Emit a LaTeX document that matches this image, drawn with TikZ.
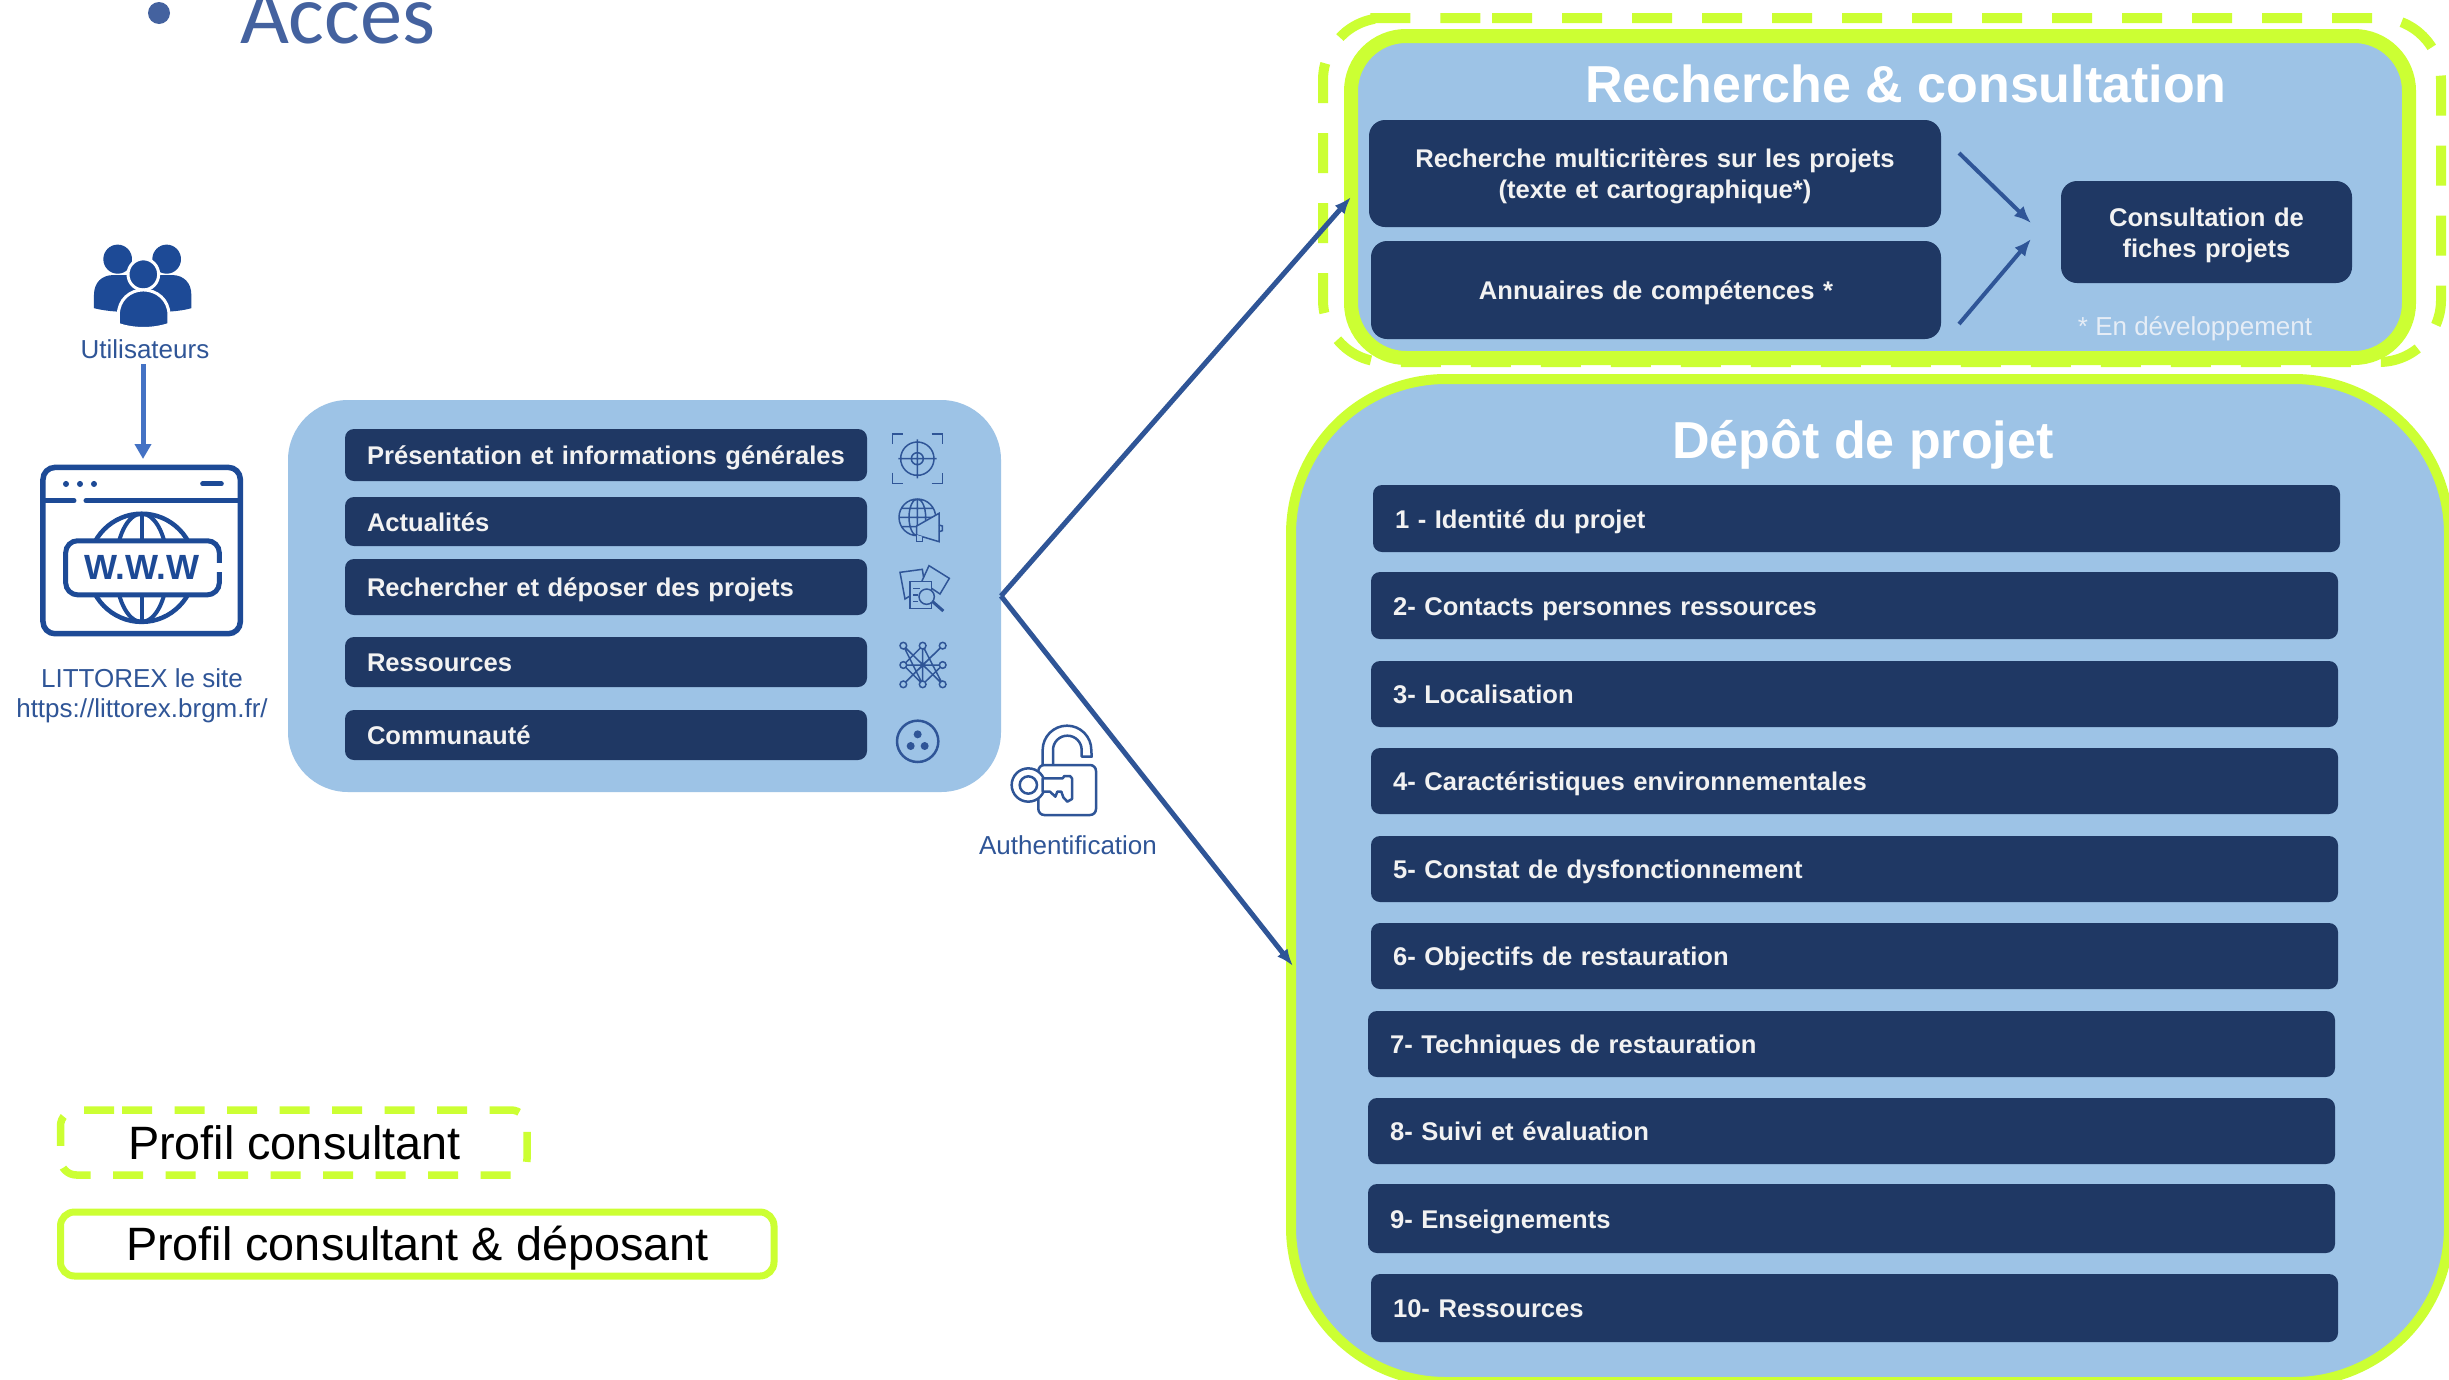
\documentclass[tikz,border=0pt]{standalone}
\usepackage{fontspec}
\setmainfont{Liberation Sans}
\newfontfamily\calib{Carlito}
\usetikzlibrary{arrows.meta}
\definecolor{dark}{HTML}{1F3864}
\definecolor{sky}{HTML}{9DC3E6}
\definecolor{lime}{HTML}{CCFF33}
\definecolor{line}{HTML}{2F5597}
\definecolor{icon}{HTML}{1D4A96}
\definecolor{arrowb}{HTML}{4472C4}
\definecolor{acc}{HTML}{44629F}
\definecolor{devtxt}{HTML}{E6EDF6}
\newcommand{\st}{\rule[-6pt]{0pt}{31pt}}
\tikzset{
  x=1pt,y=-1pt,
  every node/.style={outer sep=0pt},
  barbox/.style={rectangle,fill=dark,text=black!5,rounded corners=9pt,inner ysep=0pt,inner xsep=22pt,
    align=left,anchor=north west,font=\bfseries\fontsize{25.6}{31}\selectfont},
  cbox/.style={barbox,align=center,rounded corners=16pt},
  panelbox/.style={rectangle,fill=sky,anchor=north west,inner sep=0pt},
  bluetxt/.style={text=line,font=\fontsize{26}{31}\selectfont,align=center,inner sep=0pt},
  title/.style={text=white,font=\bfseries\fontsize{52}{60}\selectfont,inner sep=0pt,anchor=base},
  legend/.style={text=black,font=\fontsize{46.8}{52}\selectfont,inner sep=0pt,anchor=base west},
  link/.style={draw=line,line width=5pt,-{Latex[length=17pt,width=13pt]}},
  sublink/.style={draw=line,line width=4pt,-{Latex[length=17pt,width=14pt]}},
  ic/.style={draw=line,line width=1.5pt,fill=none},
}
\newcommand{\mybar}[6]{%
  \pgfmathsetmacro\bw{#4-#2-44}\pgfmathsetmacro\bh{#5-#3}%
  \node[barbox,text width=\bw pt,minimum height=\bh pt] (#1) at (#2,#3) {\st\mbox{#6}};}
\newcommand{\mycbox}[6]{%
  \pgfmathsetmacro\bw{#4-#2-44}\pgfmathsetmacro\bh{#5-#3}%
  \node[cbox,text width=\bw pt,minimum height=\bh pt] (#1) at (#2,#3) {\st #6};}
\newcommand{\mypanel}[6]{%
  \pgfmathsetmacro\bw{#4-#2}\pgfmathsetmacro\bh{#5-#3}%
  \node[panelbox,minimum width=\bw pt,minimum height=\bh pt,#6] (#1) at (#2,#3) {};}
\begin{document}
\begin{tikzpicture}
\useasboundingbox (0,0) rectangle (2449,1379);
\clip (0,0) rectangle (2449,1379);
\fill[white] (0,0) rectangle (2449,1379);

% heading
\fill[acc] (159,13) circle (11);
\node[text=acc,font=\calib\fontsize{84.5}{90}\selectfont,inner sep=0pt,anchor=base west] (acces) at (240,43) {Acces};

% users
\begin{scope}[shift={(0,200)},xscale=1/3,yscale=1/2.958]
  \fill[icon] (282,320) -- (282,280) .. controls (282,245) and (305,222) .. (340,222) -- (420,222) -- (420,332) .. controls (370,332) and (320,330) .. (282,320) -- cycle;
  \fill[icon] (574,320) -- (574,280) .. controls (574,245) and (551,222) .. (516,222) -- (440,222) -- (440,332) .. controls (490,332) and (540,330) .. (574,320) -- cycle;
  \fill[icon] (353,175) circle (43);
  \fill[icon] (500,175) circle (43);
  \filldraw[icon,draw=white,line width=3pt] (430,220) circle (46);
  \filldraw[icon,draw=white,line width=3pt] (355,368) -- (355,340) .. controls (355,295) and (390,266) .. (430,266) .. controls (470,266) and (507,295) .. (507,340) -- (507,368) .. controls (460,384) and (400,384) .. (355,368) -- cycle;
  % browser
  \draw[icon,line width=5.5pt,rounded corners=12pt] (129,791) rectangle (721,1283);
  \draw[icon,line width=5pt,line cap=round] (129,890) -- (222,890) (258,890) -- (721,890);
  \fill[icon] (198,840) circle (9) (240,840) circle (9) (282,840) circle (9);
  \draw[icon,line width=5pt,line cap=round] (608,840) -- (664,840);
  % globe
  \draw[icon,line width=4.5pt] (425,1088) circle (160);
  \begin{scope}
    \clip (425,1088) circle (160);
    \draw[icon,line width=4pt] (425,920) -- (425,1260);
    \draw[icon,line width=4pt] (425,1088) ellipse (78 and 160);
  \end{scope}
  \filldraw[fill=white,draw=icon,line width=5pt,rounded corners=12pt] (197,1008) rectangle (658,1168);
  \draw[white,line width=8pt] (658,1075) -- (658,1100);
\end{scope}
\node[bluetxt,anchor=base] (users) at (145,358) {Utilisateurs};
\node[text=icon,font=\bfseries\fontsize{35}{38}\selectfont,inner sep=0pt,anchor=base] (www) at (142,579) {W.W.W};
\node[bluetxt,anchor=base] (site1) at (142,687) {LITTOREX le site};
\node[bluetxt,anchor=base] (site2) at (142,717) {https://littorex.brgm.fr/};
\coordinate (usertail) at (143,364);
\coordinate (browsertop) at (143,459);
\draw[arrowb,line width=5pt,-{Triangle[length=15pt,width=16pt]}] (usertail) -- (browsertop);

% left panel
\mypanel{main}{288}{400}{1001}{792}{rounded corners=60pt}
\mybar{a1}{345}{429}{867}{481}{Présentation et informations générales}
\mybar{a2}{345}{497}{867}{546}{Actualités}
\mybar{a3}{345}{559}{867}{615}{Rechercher et déposer des projets}
\mybar{a4}{345}{637}{867}{687}{Ressources}
\mybar{a5}{345}{710}{867}{760}{Communauté}

% panel icons (zoom coordinates)
\begin{scope}[shift={(860,400)},xscale=1/3,yscale=1/3]
  % target
  \draw[ic] (97,132) -- (97,102) -- (130,102) (215,102) -- (248,102) -- (248,132) (97,218) -- (97,250) -- (130,250) (215,250) -- (248,250) -- (248,218);
  \draw[ic] (172,176) circle (50) (172,176) circle (18) (115,176) -- (230,176) (172,118) -- (172,235);
  % globe + megaphone
  \draw[ic] (172,352) circle (55) (172,352) ellipse (25 and 55) (117,352) -- (227,352) (125,325) -- (219,325) (125,380) -- (219,380) (172,297) -- (172,407);
  \filldraw[ic,fill=sky] (170,378) -- (237,340) -- (237,425) -- (170,405) -- cycle;
  \filldraw[ic,fill=sky] (170,405) -- (170,425) -- (187,425) -- (187,410);
  \draw[ic] (237,375) -- (247,378) -- (247,392) -- (237,395);
  % documents
  \filldraw[ic,fill=sky] (120,517) -- (187,508) -- (195,560) -- (135,597) -- cycle;
  \filldraw[ic,fill=sky] (207,497) -- (268,535) -- (240,582) -- (185,545) -- cycle;
  \filldraw[ic,fill=sky] (150,545) -- (215,545) -- (215,625) -- (150,625) -- cycle;
  \draw[ic] (160,565) -- (180,565) (160,585) -- (175,585) (160,605) -- (175,605);
  \filldraw[ic,fill=sky] (200,590) circle (23);
  \draw[ic,line width=3pt] (218,605) -- (250,633);
  % network
  \draw[ic] (130,737) -- (248,853) (248,737) -- (130,853) (130,795) -- (248,795) (188,737) -- (188,853)
     (130,737) -- (188,853) (188,737) -- (248,853) (188,737) -- (130,795) (188,795) -- (130,853) (188,795) -- (248,737) (130,795) -- (188,853) (188,853) -- (248,795);
  \foreach \cx/\cy in {130/737,188/737,248/737,130/795,248/795,130/853,188/853,248/853}
    \filldraw[ic,fill=sky] (\cx,\cy) circle (10);
  \fill[line] (188,795) circle (7);
  % community
  \draw[line,line width=2.5pt] (173,1024) circle (62);
  \fill[line] (173,1003) circle (12) (152,1038) circle (12) (194,1038) circle (12);
  % lock
  \draw[line,line width=2.5pt,rounded corners=6pt] (535,1095) rectangle (708,1245);
  \draw[line,line width=2.5pt,line join=round] (548,1095) -- (548,1050) arc[start angle=180,end angle=360,radius=73] -- (695,1070) -- (665,1070) -- (665,1050) arc[start angle=360,end angle=180,radius=43] -- (579,1095);
  \filldraw[line,fill=white,line width=2.5pt] (505,1155) circle (50);
  \draw[line,line width=2.5pt] (505,1155) circle (26);
  \filldraw[draw=line,fill=white,line width=2.5pt,line join=round] (548,1135) -- (608,1135) -- (613,1128) -- (630,1128) -- (636,1135) -- (636,1197) -- (622,1205) -- (610,1192) -- (604,1175) -- (592,1175) -- (586,1190) -- (570,1175) -- (548,1175) -- cycle;
\end{scope}
\node[bluetxt,anchor=base] (auth) at (1068,854) {Authentification};

% top panel
\mypanel{top}{1351}{36}{2409}{358}{rounded corners=55pt,draw=lime,line width=14pt}
\draw[lime,line width=10pt,dash pattern=on 40pt off 30pt,rounded corners=62pt]
  (1430,18) -- (2441,18) -- (2441,362) -- (1323,362) -- (1323,18) -- cycle;
\node[title] (ttop) at (1906,102) {Recherche \& consultation};
\mycbox{r1}{1369}{120}{1941}{227}{Recherche multicritères sur les projets\\\st(texte et cartographique*)}
\mycbox{r2}{1371}{241}{1941}{339}{Annuaires de compétences *}
\mycbox{r3}{2061}{181}{2352}{283}{Consultation de\\\st fiches projets}
\node[text=devtxt,font=\fontsize{26}{31}\selectfont,inner sep=0pt,anchor=base] (dev) at (2195,335) {* En développement};
\coordinate (s1) at (1959,153);
\coordinate (e1) at (2031,223);
\coordinate (s2) at (1959,324);
\coordinate (e2) at (2031,239);
\draw[sublink] (s1) -- (e1);
\draw[sublink] (s2) -- (e2);

% depot panel
\mypanel{depot}{1291}{379}{2449}{1382}{rounded corners=155pt,draw=lime,line width=10pt}
\node[title] (tdepot) at (1863,458) {Dépôt de projet};
\mybar{d1}{1373}{485}{2340}{552}{1 - Identité du projet}
\mybar{d2}{1371}{572}{2338}{639}{2- Contacts personnes ressources}
\mybar{d3}{1371}{661}{2338}{727}{3- Localisation}
\mybar{d4}{1371}{748}{2338}{814}{4- Caractéristiques environnementales}
\mybar{d5}{1371}{836}{2338}{902}{5- Constat de dysfonctionnement}
\mybar{d6}{1371}{923}{2338}{989}{6- Objectifs de restauration}
\mybar{d7}{1368}{1011}{2335}{1077}{7- Techniques de restauration}
\mybar{d8}{1368}{1098}{2335}{1164}{8- Suivi et évaluation}
\mybar{d9}{1368}{1184}{2335}{1253}{9- Enseignements}
\mybar{d10}{1371}{1274}{2338}{1342}{10- Ressources}

% main arrows
\coordinate (depotin) at (1293,966);
\draw[link] (main.east) -- (top.west);
\draw[link] (main.east) -- (depotin);

% legend
\draw[lime,line width=7.5pt,dash pattern=on 30pt off 22.5pt,rounded corners=16pt]
  (106,1110) -- (527,1110) -- (527,1175) -- (60.5,1175) -- (60.5,1110) -- cycle;
\node[legend] (l1) at (128,1159) {Profil consultant};
\draw[lime,line width=7pt,rounded corners=14pt] (60.5,1212) rectangle (774,1276);
\node[legend] (l2) at (126,1260) {Profil consultant \& déposant};
\end{tikzpicture}
\end{document}
